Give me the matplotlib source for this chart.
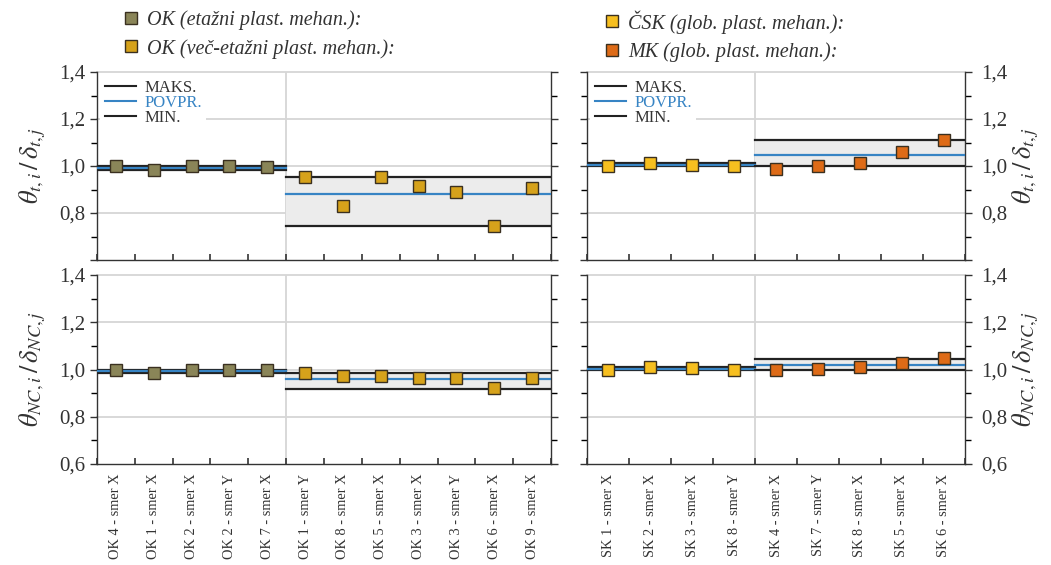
import matplotlib
matplotlib.use("Agg")
import matplotlib.pyplot as plt
from matplotlib.lines import Line2D
import numpy as np

plt.rcParams['font.family'] = ['Liberation Serif', 'DejaVu Serif']
plt.rcParams['mathtext.fontset'] = 'stix'

# ---------------- data ----------------
ok_cats_etazni = ["OK 4 - smer X", "OK 1 - smer X", "OK 2 - smer X", "OK 2 - smer Y", "OK 7 - smer X"]
ok_cats_vec = ["OK 1 - smer Y", "OK 8 - smer X", "OK 5 - smer X", "OK 3 - smer X",
               "OK 3 - smer Y", "OK 6 - smer X", "OK 9 - smer X"]
sk_cats_csk = ["SK 1 - smer X", "SK 2 - smer X", "SK 3 - smer X", "SK 8 - smer Y"]
sk_cats_mk = ["SK 4 - smer X", "SK 7 - smer Y", "SK 8 - smer X", "SK 5 - smer X", "SK 6 - smer X"]

# theta_t / delta_t
t_ok_etazni = [1.000, 0.985, 0.998, 0.998, 0.995]
t_ok_vec = [0.955, 0.830, 0.952, 0.915, 0.888, 0.745, 0.906]
t_csk = [1.000, 1.012, 1.004, 1.000]
t_mk = [0.989, 1.000, 1.011, 1.058, 1.111]
# theta_NC / delta_NC
nc_ok_etazni = [1.000, 0.986, 0.998, 1.000, 1.000]
nc_ok_vec = [0.986, 0.972, 0.972, 0.965, 0.962, 0.922, 0.962]
nc_csk = [1.000, 1.011, 1.006, 1.000]
nc_mk = [0.997, 1.001, 1.011, 1.028, 1.049]

# statistics lines (max, mean, min)
t_ok_etazni_stats = [1.000, 0.993, 0.985]
t_ok_vec_stats = [0.952, 0.881, 0.743]
t_csk_stats = [1.012, 1.005, 1.000]
t_mk_stats = [1.111, 1.047, 1.000]
nc_ok_etazni_stats = [1.000, 0.994, 0.987]
nc_ok_vec_stats = [0.987, 0.958, 0.918]
nc_csk_stats = [1.010, 1.004, 0.998]
nc_mk_stats = [1.044, 1.018, 0.997]

ytick_vals = [0.6, 0.8, 1.0, 1.2, 1.4]
ytick_labels = ["0,6", "0,8", "1,0", "1,2", "1,4"]

# ---------------- style ----------------
c_etazni = "#8a8558"
c_vec = "#d6a21b"
c_csk = "#f7bf1f"
c_mk = "#de6b17"
c_edge = "#3a3020"
c_mean = "#3784c4"
c_grid = "#d6d6d6"
c_band = "#ececec"
c_text = "#333333"

fig = plt.figure(figsize=(10.51, 5.65), dpi=100)
W, H = 1051, 565

def frac(x0, y0, x1, y1):
    return [x0 / W, 1 - y1 / H, (x1 - x0) / W, (y1 - y0) / H]

ax_tl = fig.add_axes(frac(97, 72, 551, 260))
ax_tr = fig.add_axes(frac(587, 72, 965, 260))
ax_bl = fig.add_axes(frac(97, 275, 551, 464))
ax_br = fig.add_axes(frac(587, 275, 965, 464))


def draw_group(ax, x0, vals, stats, color):
    n = len(vals)
    xs = np.arange(x0, x0 + n)
    xl, xr = x0 - 0.5, x0 + n - 0.5
    mx, mn_, mi = stats
    ax.fill_between([xl, xr], [mi, mi], [mx, mx], color=c_band, zorder=1, lw=0)
    ax.plot([xl, xr], [mx, mx], color="#222222", lw=1.6, zorder=3)
    ax.plot([xl, xr], [mi, mi], color="#222222", lw=1.6, zorder=3)
    ax.plot([xl, xr], [mn_, mn_], color=c_mean, lw=1.6, zorder=3)
    ax.plot(xs, vals, linestyle="none", marker="s", ms=8.8, mfc=color,
            mec=c_edge, mew=1.0, zorder=5, clip_on=False)


def style_axes(ax, cats, split, top, right_side):
    n = len(cats)
    ax.set_xlim(-0.5, n - 0.5)
    ax.set_ylim(0.6, 1.4)
    for y in [0.8, 1.0, 1.2, 1.4]:
        ax.axhline(y, color=c_grid, lw=1.3, zorder=0, clip_on=False)
    ax.axvline(split - 0.5, color=c_grid, lw=1.3, zorder=0)
    ax.spines['top'].set_visible(False)
    for s in ['left', 'right', 'bottom']:
        ax.spines[s].set_color(c_text)
        ax.spines[s].set_linewidth(1.0)
    ax.set_yticks(ytick_vals)
    labs = list(ytick_labels)
    if top:
        labs[0] = ""
    ax.set_yticklabels(labs, fontsize=15)
    ax.set_yticks(np.arange(0.7, 1.4, 0.2), minor=True)
    ax.tick_params(axis='y', which='major', direction='out', length=5, width=1,
                   left=True, right=True, labelleft=not right_side,
                   labelright=right_side, colors=c_text, labelcolor=c_text,
                   pad=7 if right_side else 3.5)
    ax.tick_params(axis='y', which='minor', direction='out', length=4, width=1,
                   left=True, right=True)
    ax.set_xticks(np.arange(n))
    if top:
        ax.set_xticklabels([""] * n)
    else:
        ax.set_xticklabels(cats, rotation=90, fontsize=10.4, color=c_text)
    ax.set_xticks(np.arange(-0.5, n, 1.0), minor=True)
    ax.tick_params(axis='x', which='major', length=0, pad=7)
    ax.tick_params(axis='x', which='minor', direction='in', length=4, width=1.2,
                   colors=c_text)


ok_cats = ok_cats_etazni + ok_cats_vec
sk_cats = sk_cats_csk + sk_cats_mk

style_axes(ax_tl, ok_cats, len(ok_cats_etazni), True, False)
style_axes(ax_bl, ok_cats, len(ok_cats_etazni), False, False)
style_axes(ax_tr, sk_cats, len(sk_cats_csk), True, True)
style_axes(ax_br, sk_cats, len(sk_cats_csk), False, True)

draw_group(ax_tl, 0, t_ok_etazni, t_ok_etazni_stats, c_etazni)
draw_group(ax_tl, len(ok_cats_etazni), t_ok_vec, t_ok_vec_stats, c_vec)
draw_group(ax_bl, 0, nc_ok_etazni, nc_ok_etazni_stats, c_etazni)
draw_group(ax_bl, len(ok_cats_etazni), nc_ok_vec, nc_ok_vec_stats, c_vec)
draw_group(ax_tr, 0, t_csk, t_csk_stats, c_csk)
draw_group(ax_tr, len(sk_cats_csk), t_mk, t_mk_stats, c_mk)
draw_group(ax_br, 0, nc_csk, nc_csk_stats, c_csk)
draw_group(ax_br, len(sk_cats_csk), nc_mk, nc_mk_stats, c_mk)

# y labels
lab_t = r"$\theta_{t,i}\,/\,\delta_{t,j}$"
lab_nc = r"$\theta_{NC,i}\,/\,\delta_{NC,j}$"
ax_tl.set_ylabel(lab_t, fontsize=19, color=c_text, labelpad=8)
ax_bl.set_ylabel(lab_nc, fontsize=19, color=c_text, labelpad=8)
ax_tr.yaxis.set_label_position("right")
ax_br.yaxis.set_label_position("right")
ax_tr.set_ylabel(lab_t, fontsize=19, color=c_text, labelpad=2, rotation=90)
ax_br.set_ylabel(lab_nc, fontsize=19, color=c_text, labelpad=2, rotation=90)

# inner legends
for ax in (ax_tl, ax_tr):
    handles = [Line2D([], [], color="#222222", lw=1.5),
               Line2D([], [], color=c_mean, lw=1.5),
               Line2D([], [], color="#222222", lw=1.5)]
    leg = ax.legend(handles, ["MAKS.", "POVPR.", "MIN."], loc="upper left",
                    bbox_to_anchor=(0.0, 1.0), frameon=True, fancybox=False,
                    edgecolor="none", facecolor="white", framealpha=1,
                    fontsize=12, handlelength=1.9, handletextpad=0.5,
                    labelspacing=-0.05, borderpad=0.25, borderaxespad=0.2)
    leg.set_zorder(10)
    for t, c in zip(leg.get_texts(), [c_text, c_mean, c_text]):
        t.set_color(c)

# header legends
def header(x, y, labels, colors):
    hs = [Line2D([], [], linestyle="none", marker="s", ms=8, mfc=c, mec=c_edge, mew=1.0)
          for c in colors]
    fig.legend(hs, labels, loc="upper left", bbox_to_anchor=(x / W, 1 - y / H),
               frameon=False, prop={'family': 'Liberation Serif', 'style': 'italic', 'size': 14.5},
               handletextpad=0.2, handlelength=1.2, labelspacing=0.45, borderpad=0,
               borderaxespad=0, labelcolor=c_text)

header(119, 10, ["OK (etažni plast. mehan.):", "OK (več-etažni plast. mehan.):"], [c_etazni, c_vec])
header(600, 10, ["ČSK (glob. plast. mehan.):", "MK (glob. plast. mehan.):"], [c_csk, c_mk])

fig.savefig("out.png", dpi=100)
